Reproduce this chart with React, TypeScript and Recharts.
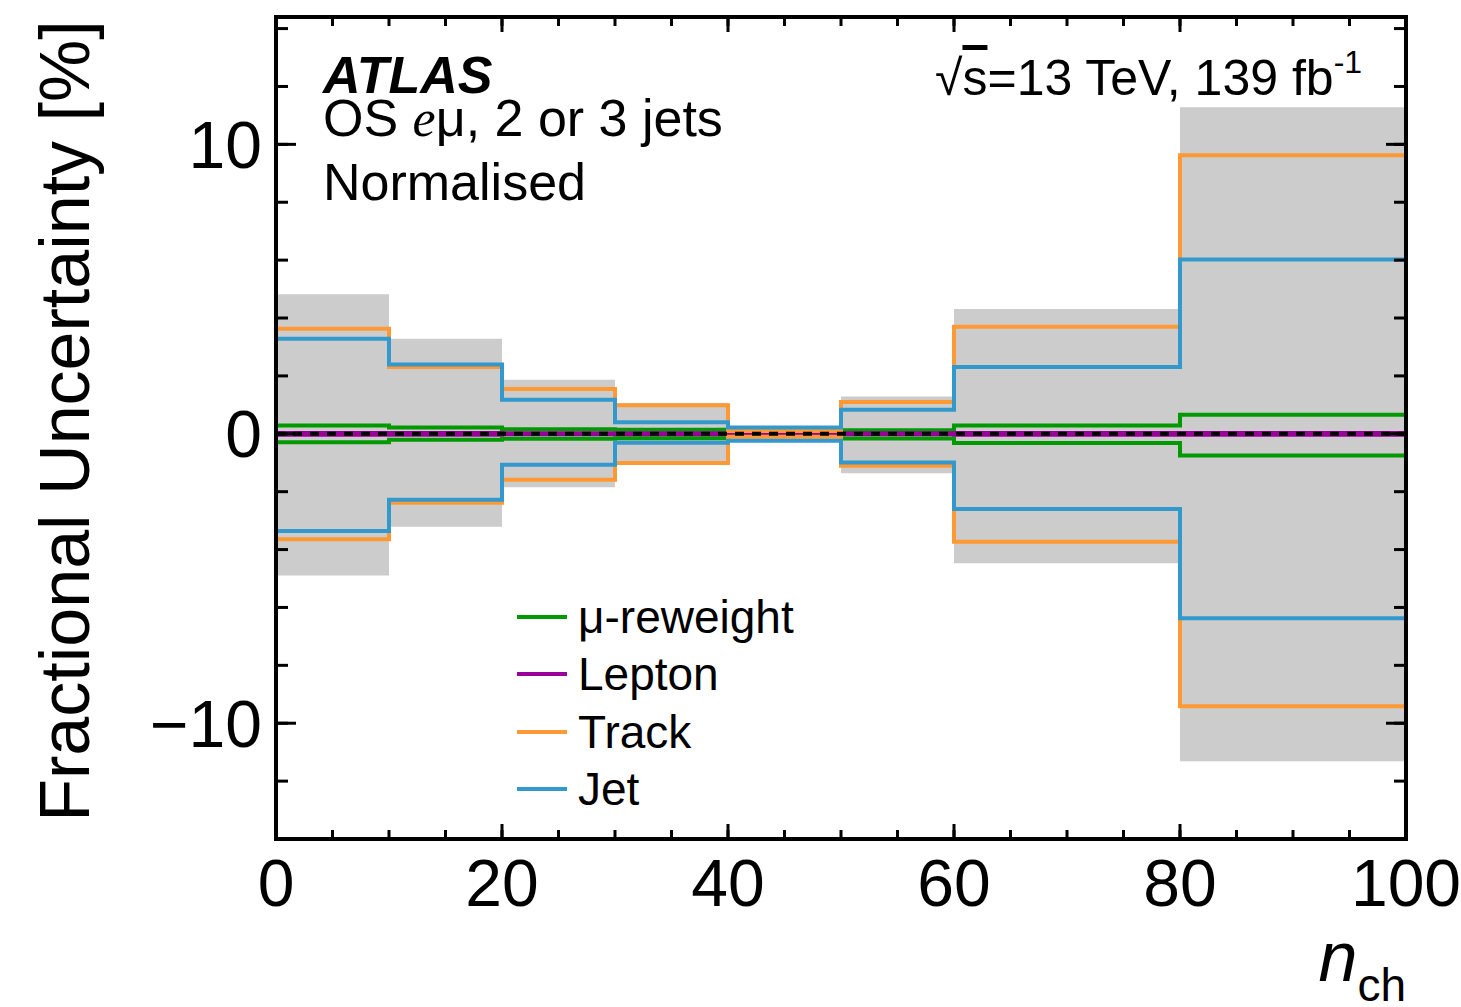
import React from 'react';
import { ComposedChart, Line, Area, XAxis, YAxis, ReferenceLine, Legend } from 'recharts';

// bin edges of n_ch, one value per bin in each series
const binEdges = [0, 10, 20, 30, 40, 50, 60, 80, 100];

const totalUp = [4.82, 3.28, 1.87, 1.06, 0.25, 1.29, 4.31, 11.28];
const totalDown = [-4.9, -3.21, -1.85, -1.08, -0.25, -1.36, -4.47, -11.31];
const muUp = [0.29, 0.22, 0.16, 0.14, 0.03, 0.12, 0.29, 0.66];
const muDown = [-0.29, -0.21, -0.17, -0.15, -0.03, -0.16, -0.32, -0.75];
const leptonUp = [0.03, 0.03, 0.02, 0.02, 0.02, 0.02, 0.03, 0.03];
const leptonDown = [-0.03, -0.03, -0.02, -0.02, -0.02, -0.02, -0.03, -0.03];
const trackUp = [3.63, 2.31, 1.55, 0.99, 0.1, 1.1, 3.7, 9.62];
const trackDown = [-3.64, -2.38, -1.59, -1.01, -0.1, -1.1, -3.73, -9.41];
const jetUp = [3.28, 2.39, 1.18, 0.4, 0.22, 0.83, 2.31, 6.02];
const jetDown = [-3.36, -2.28, -1.07, -0.31, -0.24, -0.99, -2.6, -6.37];
// the jet down-variation starts from the bottom of the frame at n_ch = 0
const jetEdgeLow = -14;

const xMajorTicks = [0, 20, 40, 60, 80, 100];
const xMinorTicks = [0, 5, 10, 15, 20, 25, 30, 35, 40, 45, 50, 55, 60, 65, 70, 75, 80, 85, 90, 95, 100];
const yMajorTicks = [-10, 0, 10];
const yMinorTicks = [-14, -12, -10, -8, -6, -4, -2, 0, 2, 4, 6, 8, 10, 12, 14];

const legendNames = ['\u03bc-reweight', 'Lepton', 'Track', 'Jet'];
const legendColors = ['#009a00', '#990099', '#ff9933', '#3399cc'];

const GREEN = '#009a00';
const MAGENTA = '#990099';
const ORANGE = '#ff9933';
const BLUE = '#3399cc';
const FONT = '"Liberation Sans", Arial, Helvetica, sans-serif';
const X_DOMAIN = [0, 100];
const Y_DOMAIN = [-14, 14.4];

const last = binEdges.length - 2;
const rows: any[] = [
  { x: 0, jetDown: jetEdgeLow },
  ...binEdges.map((x, i) => {
    const k = Math.min(i, last);
    return {
      x,
      band: [totalDown[k], totalUp[k]],
      muUp: muUp[k],
      muDown: muDown[k],
      leptonUp: leptonUp[k],
      leptonDown: leptonDown[k],
      trackUp: trackUp[k],
      trackDown: trackDown[k],
      jetUp: jetUp[k],
      jetDown: jetDown[k],
    };
  }),
];

const minus = (v: number) => String(v).replace('-', '\u2212');

const frame = { stroke: '#000', strokeWidth: 4, strokeLinecap: 'square' as const };
const tickStroke = { stroke: '#000', strokeWidth: 3 };
// tick marks only, no label
const noLabel = () => <g />;

const renderLegend = () => (
  <div style={{ fontFamily: FONT, fontSize: 46, color: '#000' }}>
    {legendNames.map((name, i) => (
      <div key={name} style={{ display: 'flex', alignItems: 'center', height: 57.5 }}>
        <span
          style={{ display: 'inline-block', width: 50, height: 4, background: legendColors[i], marginRight: 11 }}
        />
        <span>{name}</span>
      </div>
    ))}
  </div>
);

const lineProps = {
  xAxisId: 'x',
  yAxisId: 'y',
  type: 'stepAfter' as const,
  strokeWidth: 4,
  dot: false,
  activeDot: false,
  isAnimationActive: false,
};

const App = () => {
  return (
    <div style={{ position: 'absolute', left: 0, top: 0, width: 1461, height: 1007, background: '#fff', overflow: 'hidden' }}>
      <ComposedChart
        width={1461}
        height={1007}
        data={rows}
        margin={{ top: 17, right: 55, bottom: 108, left: 156 }}
      >
        {/* label axes */}
        <XAxis
          xAxisId="x"
          dataKey="x"
          type="number"
          domain={X_DOMAIN}
          allowDataOverflow
          ticks={xMajorTicks}
          interval={0}
          height={60}
          tickLine={false}
          axisLine={false}
          tickSize={0}
          tickMargin={20}
          tick={{ fontSize: 66, fill: '#000', fontFamily: FONT }}
        />
        <YAxis
          yAxisId="y"
          type="number"
          domain={Y_DOMAIN}
          allowDataOverflow
          ticks={yMajorTicks}
          interval={0}
          width={120}
          tickLine={false}
          axisLine={false}
          tickSize={0}
          tickMargin={14}
          tickFormatter={minus}
          tick={{ fontSize: 66, fill: '#000', fontFamily: FONT }}
        />

        {/* inward tick marks and frame */}
        <XAxis xAxisId="bMaj" dataKey="x" orientation="bottom" mirror height={1} type="number" domain={X_DOMAIN} allowDataOverflow ticks={xMajorTicks} interval={0} tick={noLabel} tickSize={15} tickLine={tickStroke} axisLine={frame} />
        <XAxis xAxisId="bMin" dataKey="x" orientation="bottom" mirror height={1} type="number" domain={X_DOMAIN} allowDataOverflow ticks={xMinorTicks} interval={0} tick={noLabel} tickSize={8} tickLine={tickStroke} axisLine={false} />
        <XAxis xAxisId="tMaj" dataKey="x" orientation="top" mirror height={1} type="number" domain={X_DOMAIN} allowDataOverflow ticks={xMajorTicks} interval={0} tick={noLabel} tickSize={15} tickLine={tickStroke} axisLine={frame} />
        <XAxis xAxisId="tMin" dataKey="x" orientation="top" mirror height={1} type="number" domain={X_DOMAIN} allowDataOverflow ticks={xMinorTicks} interval={0} tick={noLabel} tickSize={8} tickLine={tickStroke} axisLine={false} />
        <YAxis yAxisId="lMaj" orientation="left" mirror width={1} type="number" domain={Y_DOMAIN} allowDataOverflow ticks={yMajorTicks} interval={0} tick={noLabel} tickSize={20} tickLine={tickStroke} axisLine={frame} />
        <YAxis yAxisId="lMin" orientation="left" mirror width={1} type="number" domain={Y_DOMAIN} allowDataOverflow ticks={yMinorTicks} interval={0} tick={noLabel} tickSize={11} tickLine={tickStroke} axisLine={false} />
        <YAxis yAxisId="rMaj" orientation="right" mirror width={1} type="number" domain={Y_DOMAIN} allowDataOverflow ticks={yMajorTicks} interval={0} tick={noLabel} tickSize={20} tickLine={tickStroke} axisLine={frame} />
        <YAxis yAxisId="rMin" orientation="right" mirror width={1} type="number" domain={Y_DOMAIN} allowDataOverflow ticks={yMinorTicks} interval={0} tick={noLabel} tickSize={11} tickLine={tickStroke} axisLine={false} />

        <Area xAxisId="x" yAxisId="y" dataKey="band" type="stepAfter" fill="#cccccc" fillOpacity={1} stroke="none" isAnimationActive={false} />

        <Line {...lineProps} dataKey="muUp" stroke={GREEN} />
        <Line {...lineProps} dataKey="muDown" stroke={GREEN} />
        <Line {...lineProps} dataKey="leptonUp" stroke={MAGENTA} />
        <Line {...lineProps} dataKey="leptonDown" stroke={MAGENTA} />
        <Line {...lineProps} dataKey="trackUp" stroke={ORANGE} />
        <Line {...lineProps} dataKey="trackDown" stroke={ORANGE} />
        <Line {...lineProps} dataKey="jetUp" stroke={BLUE} />
        <Line {...lineProps} dataKey="jetDown" stroke={BLUE} />

        <ReferenceLine xAxisId="x" yAxisId="y" y={0} stroke="#000" strokeWidth={4} strokeDasharray="9 8" />

        <Legend
          layout="vertical"
          align="center"
          verticalAlign="middle"
          content={renderLegend}
          wrapperStyle={{ left: 517, top: 588, width: 'auto' }}
        />
      </ComposedChart>

      <svg
        width={1461}
        height={1007}
        style={{ position: 'absolute', left: 0, top: 0, pointerEvents: 'none' }}
        fontFamily={FONT}
      >
        <text x={323} y={93} fontSize={52} fontWeight="bold" fontStyle="italic">ATLAS</text>
        <text x={323} y={136} fontSize={52}>
          OS <tspan fontFamily='"Liberation Serif", "Times New Roman", serif' fontStyle="italic">e</tspan>{'\u03bc'}, 2 or 3 jets
        </text>
        <text x={323} y={200} fontSize={52}>Normalised</text>
        <text x={935} y={95} fontSize={50}>
          {'\u221a'}<tspan style={{ textDecoration: 'overline' }}>s</tspan>=13 TeV, 139 fb
          <tspan fontSize={32} dy={-22}>-1</tspan>
        </text>
        <text transform="translate(89, 421) rotate(-90)" textAnchor="middle" fontSize={70}>
          Fractional Uncertainty [%]
        </text>
        <text x={1406} y={981} textAnchor="end" fontSize={70}>
          <tspan fontStyle="italic">n</tspan>
          <tspan fontSize={46} dy={20}>ch</tspan>
        </text>
      </svg>
    </div>
  );
};

export default App;
